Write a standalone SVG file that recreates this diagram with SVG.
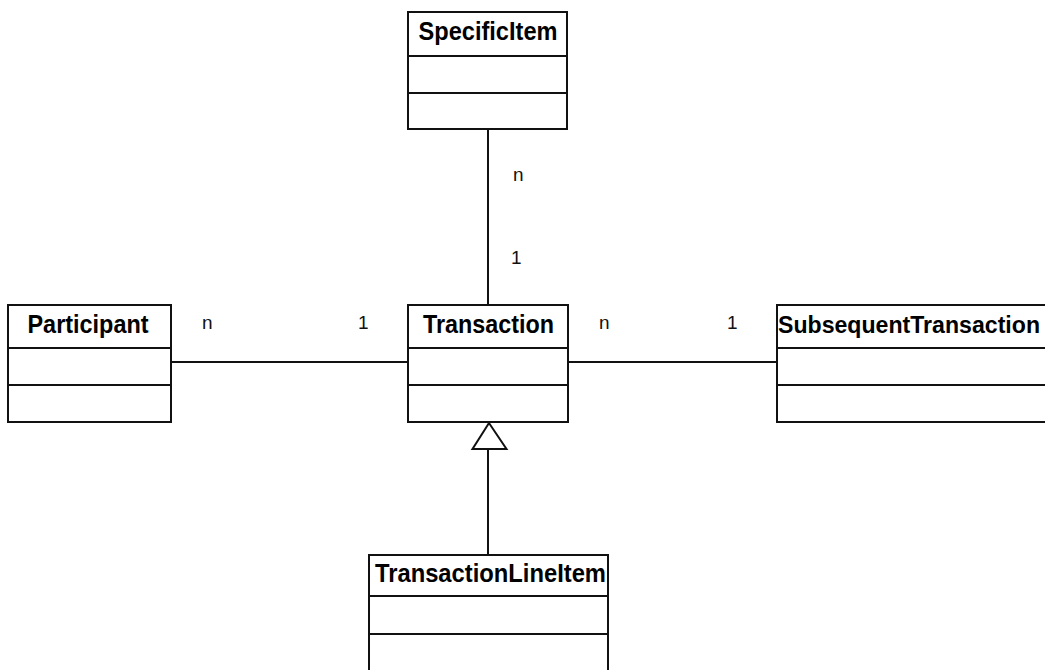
<svg xmlns="http://www.w3.org/2000/svg" width="1045" height="670" viewBox="0 0 1045 670">
  <style>
    .box { fill: #ffffff; stroke: #111111; stroke-width: 2; }
    .sep { stroke: #111111; stroke-width: 2; }
    .name { font-family: "Liberation Sans", Arial, sans-serif; font-weight: bold; font-size: 25px; fill: #000000; text-anchor: middle; }
    .edge { stroke: #111111; stroke-width: 2; fill: none; }
    .head { stroke: #111111; stroke-width: 2; fill: #ffffff; }
    .mult { font-family: "Liberation Sans", Arial, sans-serif; font-size: 19px; fill: #111111; }
  </style>

  <rect width="1045" height="670" fill="#ffffff"/>

  <!-- associations, generalization and multiplicities -->
  <g id="connectors">
    <line class="edge" x1="488" y1="129" x2="488" y2="305"/>
    <line class="edge" x1="171" y1="362" x2="408" y2="362"/>
    <line class="edge" x1="568" y1="362" x2="777" y2="362"/>
    <!-- generalization: TransactionLineItem -> Transaction -->
    <line class="edge" x1="488" y1="449" x2="488" y2="555"/>
    <polygon class="head" points="489,423 472.5,449 506.5,449"/>
    <text class="mult" x="513" y="181">n</text>
    <text class="mult" x="511" y="264">1</text>
    <text class="mult" x="202" y="329">n</text>
    <text class="mult" x="358" y="329">1</text>
    <text class="mult" x="599" y="329">n</text>
    <text class="mult" x="727" y="329">1</text>
  </g>

  <g id="SpecificItem">
    <rect class="box" x="408" y="12" width="159" height="117"/>
    <line class="sep" x1="408" y1="56" x2="567" y2="56"/>
    <line class="sep" x1="408" y1="93" x2="567" y2="93"/>
    <text class="name" x="488" y="40" textLength="139" lengthAdjust="spacingAndGlyphs">SpecificItem</text>
  </g>

  <g id="Participant">
    <rect class="box" x="8" y="305" width="163" height="117"/>
    <line class="sep" x1="8" y1="348" x2="171" y2="348"/>
    <line class="sep" x1="8" y1="385" x2="171" y2="385"/>
    <text class="name" x="88" y="333" textLength="121" lengthAdjust="spacingAndGlyphs">Participant</text>
  </g>

  <g id="Transaction">
    <rect class="box" x="408" y="305" width="160" height="117"/>
    <line class="sep" x1="408" y1="348" x2="568" y2="348"/>
    <line class="sep" x1="408" y1="385" x2="568" y2="385"/>
    <text class="name" x="488.5" y="333" textLength="131" lengthAdjust="spacingAndGlyphs">Transaction</text>
  </g>

  <!-- the box runs on past the right edge of the sheet -->
  <g id="SubsequentTransaction">
    <rect class="box" x="777" y="305" width="290" height="117"/>
    <line class="sep" x1="777" y1="348" x2="1067" y2="348"/>
    <line class="sep" x1="777" y1="385" x2="1067" y2="385"/>
    <text class="name" x="778" y="333" style="text-anchor:start;font-size:23px" textLength="262" lengthAdjust="spacingAndGlyphs">SubsequentTransaction</text>
  </g>

  <g id="TransactionLineItem">
    <rect class="box" x="369" y="555" width="239" height="130"/>
    <line class="sep" x1="369" y1="596" x2="608" y2="596"/>
    <line class="sep" x1="369" y1="634" x2="608" y2="634"/>
    <text class="name" x="375" y="582" style="text-anchor:start" textLength="231" lengthAdjust="spacingAndGlyphs">TransactionLineItem</text>
  </g>
</svg>
